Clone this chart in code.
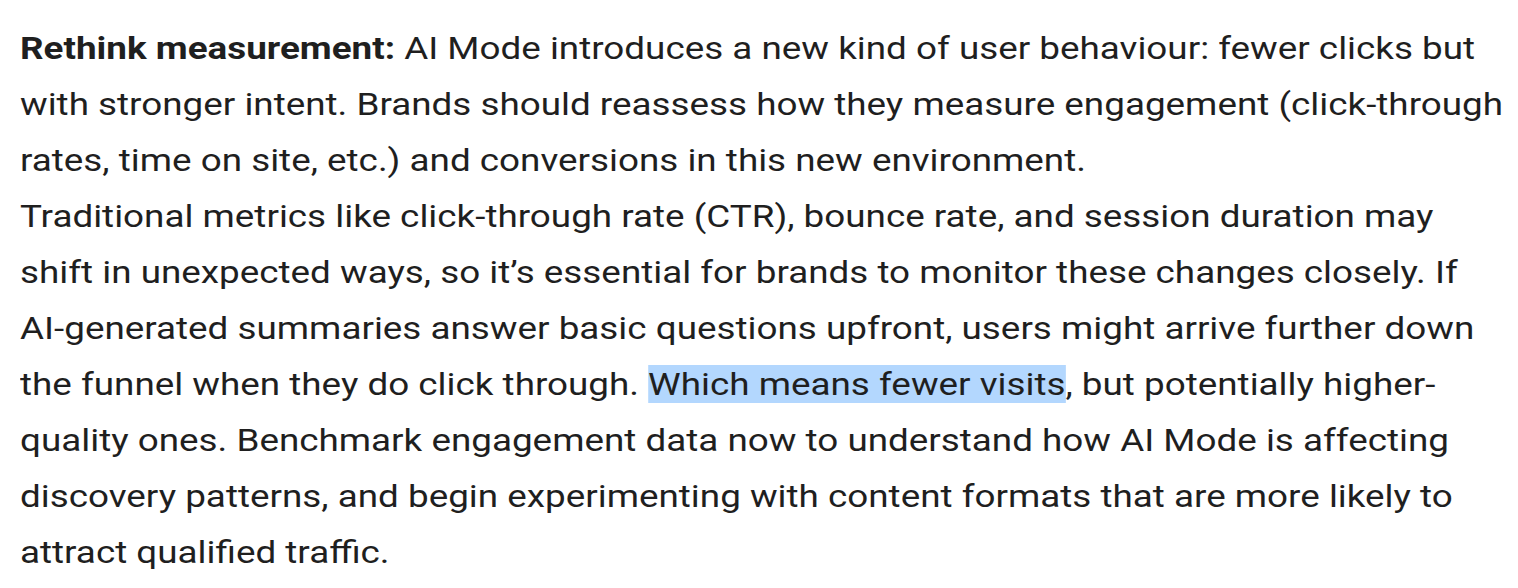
<!DOCTYPE html>
<html>
<head>
<meta charset="utf-8">
<script src="https://cdn.jsdelivr.net/npm/chart.js"></script>
<style>
  html, body { margin: 0; background: #fff; overflow: hidden; }
  #text {
    position: absolute; left: 20px; top: 20px;
    font-family: Roboto, "Noto Sans", sans-serif;
    font-size: 32px; line-height: 56px; color: #1f1f1f;
    white-space: nowrap; transform-origin: 0 0;
  }
  #text span.line { display: inline-block; }
  .hl { background: #b3d7fe; }
</style>
</head>
<body>
<div id="text"></div>
<script>
// No chart in the reference: only a paragraph of text, laid out line by line
const lines = [
  '<b>Rethink measurement:</b> AI Mode introduces a new kind of user behaviour: fewer clicks but',
  'with stronger intent. Brands should reassess how they measure engagement (click-through',
  'rates, time on site, etc.) and conversions in this new environment.',
  'Traditional metrics like click-through rate (CTR), bounce rate, and session duration may',
  'shift in unexpected ways, so it\u2019s essential for brands to monitor these changes closely. If',
  'AI-generated summaries answer basic questions upfront, users might arrive further down',
  'the funnel when they do click through. <span class="hl">Which means fewer visits</span>, but potentially higher-',
  'quality ones. Benchmark engagement data now to understand how AI Mode is affecting',
  'discovery patterns, and begin experimenting with content formats that are more likely to',
  'attract qualified traffic.'
];
const box = document.getElementById('text');
box.innerHTML = lines.map(l => '<span class="line">' + l + '</span>').join('<br>');
// reference's widest line (2nd) spans about 1483px; stretch horizontally to match
const w = box.querySelectorAll('.line')[1].getBoundingClientRect().width;
box.style.transform = 'scaleX(' + (1483 / w) + ')';
</script>
</body>
</html>
